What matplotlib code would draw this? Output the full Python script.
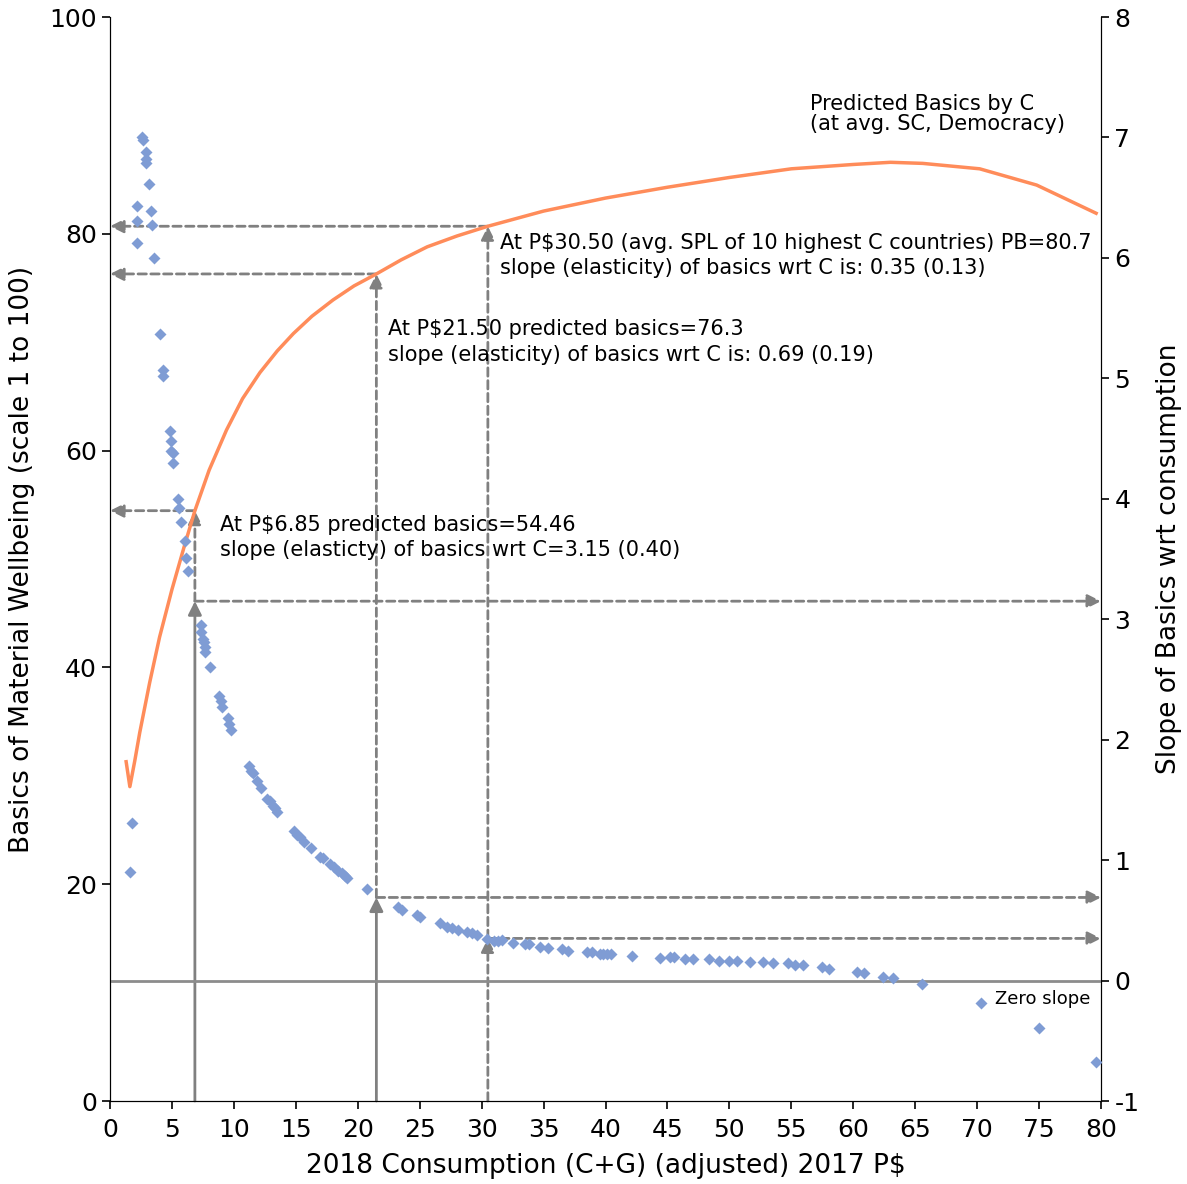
import numpy as np
import matplotlib
matplotlib.use("Agg")
import matplotlib.pyplot as plt

plt.rcParams['font.family'] = ['DejaVu Sans']
plt.rcParams['axes.unicode_minus'] = False

# predicted basics curve (left axis)
curve_x = [1.3, 1.6, 2.0, 2.4, 3.2, 4.0, 5.0, 6.0, 6.85, 8.0, 9.4, 10.7, 12.1, 13.5, 14.8,
           16.3, 18.0, 19.7, 21.5, 23.5, 25.6, 28.0, 30.5, 35, 40, 45, 50, 55, 60, 63,
           65.6, 70.2, 74.8, 79.6]
curve_y = [31.3, 29.0, 31.4, 34.0, 38.6, 42.8, 47.2, 51.2, 54.46, 58.2, 61.9, 64.8, 67.2, 69.2, 70.8,
           72.4, 73.9, 75.2, 76.3, 77.6, 78.8, 79.8, 80.7, 82.1, 83.3, 84.3, 85.2, 86.0, 86.4, 86.6,
           86.5, 86.0, 84.5, 81.9]

# slope of basics wrt consumption (right axis)
slope_x = [1.61, 1.75, 2.15, 2.15, 2.15, 2.55, 2.7, 2.91, 2.91, 2.91, 3.17, 3.31, 3.42, 3.53,
           4.06, 4.28, 4.28, 4.84, 4.95, 4.95, 5.06, 5.11, 5.51, 5.6, 5.73, 6.05, 6.13, 6.32,
           7.32, 7.32, 7.48, 7.59, 7.67, 7.67, 8.07, 8.82, 8.96, 9.07, 9.5, 9.63, 9.74,
           11.24, 11.38, 11.57, 11.84, 12.19, 12.7, 12.91, 13.13, 13.32, 13.5,
           14.88, 15.12, 15.33, 15.66, 16.22, 16.95, 17.17, 17.76, 18.08, 18.43, 18.7, 18.97, 19.15,
           20.77, 23.27, 23.6, 24.75, 25.0, 26.63, 27.17, 27.58, 28.11, 28.84, 29.19, 29.6,
           30.4, 31.0, 31.34, 31.66, 32.5, 33.5, 33.84, 34.7, 35.33, 36.46, 36.99, 38.47, 38.88,
           39.55, 39.82, 40.14, 40.41, 42.1, 44.39, 45.2, 45.52, 46.4, 47.08, 48.37, 49.15,
           49.98, 50.58, 51.65, 52.73, 53.54, 54.75, 55.29, 55.9, 57.44, 58.06, 60.32, 60.86,
           62.42, 63.22, 65.51, 70.3, 74.98, 79.6]
slope_y = [0.90, 1.31, 6.43, 6.31, 6.12, 7.00, 6.98, 6.88, 6.82, 6.79, 6.61, 6.39, 6.27, 6.00,
           5.37, 5.07, 5.02, 4.56, 4.48, 4.40, 4.38, 4.30, 4.00, 3.92, 3.81, 3.65, 3.51, 3.40,
           2.95, 2.89, 2.84, 2.81, 2.77, 2.73, 2.60, 2.36, 2.32, 2.27, 2.18, 2.13, 2.08,
           1.78, 1.74, 1.72, 1.66, 1.60, 1.51, 1.49, 1.45, 1.43, 1.40,
           1.24, 1.21, 1.19, 1.15, 1.10, 1.03, 1.02, 0.97, 0.94, 0.91, 0.89, 0.87, 0.85,
           0.76, 0.61, 0.59, 0.545, 0.53, 0.476, 0.448, 0.434, 0.42, 0.406, 0.393, 0.379,
           0.343, 0.33, 0.33, 0.337, 0.315, 0.304, 0.304, 0.28, 0.273, 0.262, 0.248, 0.235, 0.235,
           0.221, 0.221, 0.221, 0.221, 0.204, 0.19, 0.194, 0.194, 0.18, 0.18, 0.18, 0.165,
           0.165, 0.165, 0.155, 0.157, 0.144, 0.144, 0.13, 0.13, 0.115, 0.10, 0.074, 0.066,
           0.032, 0.024, -0.031, -0.19, -0.39, -0.68]

# marked consumption levels, predicted basics and slope at each
mark_c = [6.85, 21.5, 30.5]
mark_pb = [54.46, 76.3, 80.7]
mark_slope = [3.15, 0.69, 0.35]
mark_base_style = ['solid', 'solid', 'dashed']
mark_text = [
    "At P$6.85 predicted basics=54.46\nslope (elasticty) of basics wrt C=3.15 (0.40)",
    "At P$21.50 predicted basics=76.3\nslope (elasticity) of basics wrt C is: 0.69 (0.19)",
    "At P$30.50 (avg. SPL of 10 highest C countries) PB=80.7\nslope (elasticity) of basics wrt C is: 0.35 (0.13)",
]
mark_text_pos = [(8.9, 54.1), (22.4, 72.1), (31.5, 80.1)]

ORANGE = '#FF8C5A'
BLUE = '#7F9CD4'
GREY = '#808080'
DASH = (0, (3, 1.6))

fig = plt.figure(figsize=(11.87, 11.84), dpi=100)
ax = fig.add_axes([0.0927, 0.0701, 0.8349, 0.9155])
ax2 = ax.twinx()

ax.set_xlim(0, 80)
ax.set_ylim(0, 100)
ax2.set_ylim(-1, 8)

# zero slope line
ax2.axhline(0, color='#8c8c8c', lw=2, zorder=1)

ax2.plot(slope_x, slope_y, 'D', color=BLUE, ms=6, mec='none', zorder=3)
ax.plot(curve_x, curve_y, color=ORANGE, lw=2.5, zorder=4)


def arrow(xy, xytext, xyc, txc, ls):
    ax.annotate('', xy=xy, xytext=xytext, xycoords=xyc, textcoords=txc,
                arrowprops=dict(arrowstyle='-|>,head_length=0.8,head_width=0.4',
                                color=GREY, lw=2, linestyle=ls,
                                shrinkA=0, shrinkB=0), zorder=2)


L = ax.transData
R = ax2.transData
for c, pb, s, bs in zip(mark_c, mark_pb, mark_slope, mark_base_style):
    arrow((c, s), (c, 0), R, L, 'solid' if bs == 'solid' else DASH)
    arrow((c, pb), (c, s), L, R, DASH)
    arrow((0, pb), (c, pb), L, L, DASH)
    arrow((80, s), (c, s), R, R, DASH)

for txt, (tx, ty) in zip(mark_text, mark_text_pos):
    ax.text(tx, ty, txt, fontsize=15, va='top', ha='left', linespacing=1.35, zorder=5)

ax.text(56.5, 92.9, "Predicted Basics by C\n(at avg. SC, Democracy)", fontsize=15,
        va='top', ha='left', linespacing=1.0)
ax2.text(71.4, -0.15, "Zero slope", fontsize=13, va='center', ha='left')

ax.set_xticks(np.arange(0, 81, 5))
ax.set_yticks(np.arange(0, 101, 20))
ax2.set_yticks(np.arange(-1, 9, 1))
for a in (ax, ax2):
    a.tick_params(labelsize=18, length=6, width=1.2, direction='out')
    a.spines['top'].set_visible(False)
ax.tick_params(axis='x', pad=6)

ax.set_xlabel("2018 Consumption (C+G) (adjusted) 2017 P$", fontsize=19, labelpad=8)
ax.set_ylabel("Basics of Material Wellbeing (scale 1 to 100)", fontsize=19, labelpad=10)
ax2.set_ylabel("Slope of Basics wrt consumption", fontsize=19, labelpad=12)

fig.savefig('out.png', dpi=100)
